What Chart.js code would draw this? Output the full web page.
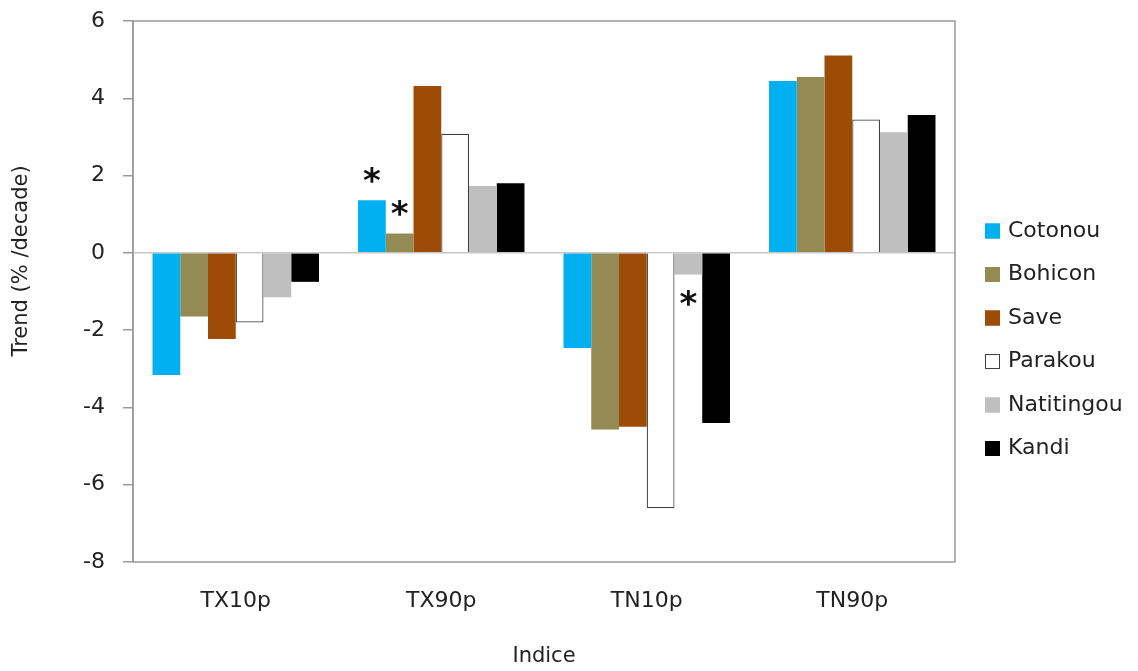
<!DOCTYPE html>
<html>
<head>
<meta charset="utf-8">
<script src="https://cdn.jsdelivr.net/npm/chart.js@4/dist/chart.umd.min.js"></script>
<style>
html,body{margin:0;padding:0;background:#fff;}
#wrap{position:relative;width:1138px;height:671px;}
</style>
</head>
<body>
<div id="wrap"><canvas id="c" width="1138" height="671"></canvas></div>
<script>
const categories = ["TX10p", "TX90p", "TN10p", "TN90p"];
const stations = ["Cotonou", "Bohicon", "Save", "Parakou", "Natitingou", "Kandi"];
const cotonou = [-3.16, 1.36, -2.46, 4.45];
const bohicon = [-1.65, 0.50, -4.57, 4.55];
const save = [-2.23, 4.32, -4.50, 5.11];
const parakou = [-1.80, 3.08, -6.61, 3.45];
const natitingou = [-1.15, 1.73, -0.56, 3.12];
const kandi = [-0.75, 1.80, -4.40, 3.57];
const yTicks = [6, 4, 2, 0, -2, -4, -6, -8];
// significance marks: [stationIndex, categoryIndex, side]
const significant = [[0, 1, "above"], [1, 1, "above"], [4, 2, "below"]];

const values = [cotonou, bohicon, save, parakou, natitingou, kandi];
const fills = ["#00B0F0", "#948A54", "#9E4B07", "#FFFFFF", "#BFBFBF", "#000000"];
const borders = ["#00B0F0", "#948A54", "#9E4B07", "#404040", "#BFBFBF", "#000000"];

const FONT = "'DejaVu Sans', sans-serif";

const decor = {
  id: "decor",
  afterDatasetsDraw(chart) {
    const ctx = chart.ctx;
    const a = chart.chartArea;
    ctx.save();
    // plot border
    ctx.strokeStyle = "#9a9a9a";
    ctx.lineWidth = 1.5;
    ctx.strokeRect(a.left, a.top, a.right - a.left, a.bottom - a.top);
    // asterisks
    ctx.fillStyle = "#111";
    ctx.font = "bold 34px " + FONT;
    ctx.textAlign = "center";
    ctx.textBaseline = "middle";
    significant.forEach(([d, i, side]) => {
      const el = chart.getDatasetMeta(d).data[i];
      const yc = side === "above" ? el.y - 26 : el.y + 23;
      ctx.fillText("*", el.x, yc + 9);
    });
    // axis titles
    ctx.fillStyle = "#222";
    ctx.font = "21px " + FONT;
    ctx.textAlign = "center";
    ctx.textBaseline = "middle";
    ctx.fillText("Indice", (a.left + a.right) / 2, 657);
    ctx.save();
    ctx.translate(22, 261);
    ctx.rotate(-Math.PI / 2);
    ctx.fillText("Trend (% /decade)", 0, 0);
    ctx.restore();
    // legend
    ctx.font = "22px " + FONT;
    ctx.textAlign = "left";
    ctx.textBaseline = "middle";
    chart.data.datasets.forEach((ds, k) => {
      const y = 231 + k * 43.5;
      ctx.fillStyle = ds.backgroundColor;
      ctx.fillRect(985, y - 7.5, 15, 15);
      ctx.strokeStyle = ds.borderColor;
      ctx.lineWidth = 1;
      ctx.strokeRect(985.5, y - 7, 14, 14);
      ctx.fillStyle = "#222";
      ctx.fillText(ds.label, 1008, y);
    });
    ctx.restore();
  }
};

new Chart(document.getElementById("c"), {
  type: "bar",
  data: {
    labels: categories,
    datasets: stations.map((s, k) => ({
      label: s,
      data: values[k],
      backgroundColor: fills[k],
      borderColor: borders[k],
      borderWidth: k === 3 ? 1.2 : 0,
      categoryPercentage: 0.81,
      barPercentage: 1.0
    }))
  },
  options: {
    responsive: false,
    animation: false,
    devicePixelRatio: 1,
    layout: { padding: { left: 0, right: 183, top: 21, bottom: 0 } },
    plugins: { legend: { display: false }, tooltip: { enabled: false } },
    scales: {
      x: {
        afterFit(s) { s.height = 109; s.paddingLeft = 0; s.paddingRight = 0; },
        grid: { display: false },
        border: { display: false },
        ticks: { color: "#222", font: { family: FONT, size: 22 }, padding: 18, maxRotation: 0 }
      },
      y: {
        min: -8, max: 6,
        afterFit(s) { s.width = 133; s.paddingTop = 0; s.paddingBottom = 0; },
        afterBuildTicks(s) { s.ticks = yTicks.map(v => ({ value: v })); },
        grid: {
          drawOnChartArea: true,
          color: c => (c.tick && c.tick.value === 0) ? "#c8c8c8" : "rgba(0,0,0,0)",
          tickColor: "#9a9a9a",
          tickLength: 10,
          lineWidth: 1.5
        },
        border: { display: true, color: "#9a9a9a", width: 1.5 },
        ticks: { color: "#222", font: { family: FONT, size: 22 }, padding: 18 }
      }
    }
  },
  plugins: [decor]
});
</script>
</body>
</html>
